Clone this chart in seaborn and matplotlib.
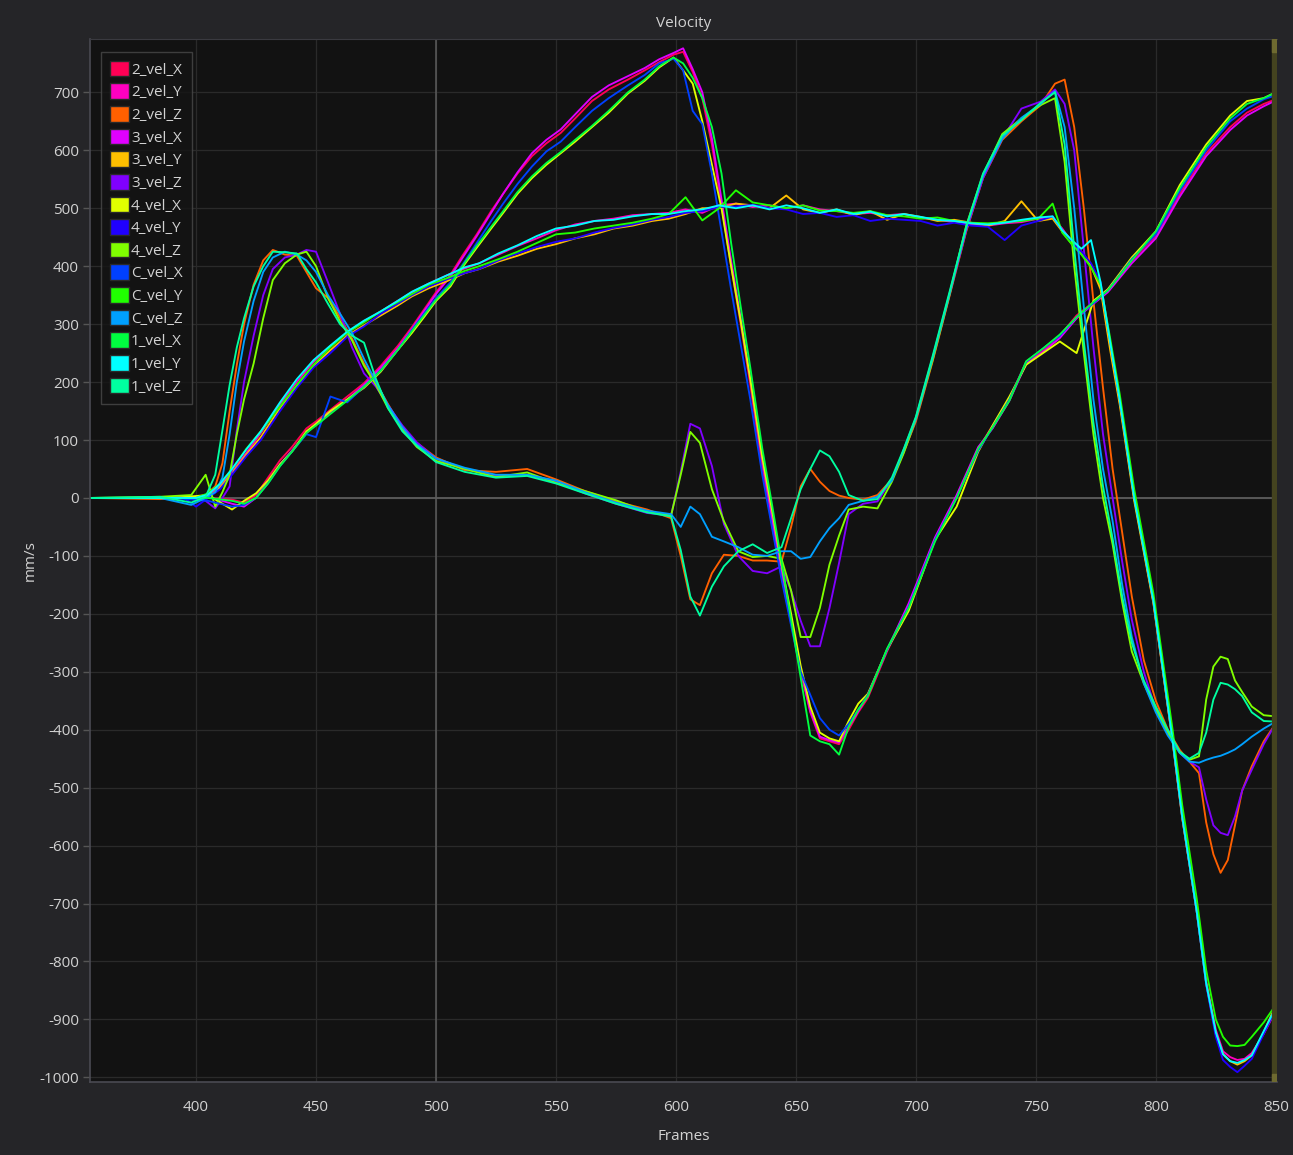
import pandas as pd
import seaborn as sns
import matplotlib.pyplot as plt
from matplotlib.patches import Patch

# frame grids (one per axis group)
frames_x = [356, 390, 405, 415, 420, 425, 430, 435, 440, 446,
            450, 456, 463, 470, 477, 484, 490, 495, 500, 506,
            511, 517, 523, 528, 534, 540, 546, 552, 558, 565,
            572, 580, 587, 593, 599, 603, 607, 611, 615, 619,
            623, 627, 631, 636, 640, 644, 648, 652, 656, 660,
            664, 668, 672, 676, 680, 688, 697, 708, 717, 726,
            732, 739, 746, 753, 760, 767, 774, 780, 790, 800,
            810, 821, 831, 838, 845, 850]

frames_y = [356, 395, 400, 405, 410, 415, 421, 427, 435, 442,
            449, 456, 463, 470, 477, 484, 490, 497, 505, 512,
            518, 526, 534, 542, 550, 558, 566, 574, 582, 590,
            597, 604, 611, 618, 625, 632, 639, 646, 653, 660,
            667, 674, 681, 688, 695, 702, 709, 716, 723, 730,
            737, 744, 751, 757, 761, 765, 769, 773, 777, 781,
            785, 791, 799, 807, 811, 817, 821, 825, 828, 831,
            834, 837, 840, 845, 850]

frames_z = [356, 385, 398, 404, 408, 411, 414, 417, 420, 424, 428, 432, 437, 442,
            446, 450, 455, 460, 465, 470, 475, 480, 486, 492, 500, 512, 525, 538, 550, 562, 575, 588, 598,
            602, 606, 610, 615, 620, 626, 632, 638, 644, 648, 652, 656, 660, 664, 668, 672, 678, 684, 690,
            695, 700, 707, 714, 721, 728, 736, 744, 752, 758,
            762, 766, 770, 774, 778, 782, 786, 790, 795, 800, 805, 810, 814,
            818, 821, 824, 827, 830, 833, 836, 840, 845, 850]

# X velocities
vel_2x = [0, 0, 0, -3, -8, 5, 35, 65, 88, 120,
          132, 152, 175, 198, 228, 262, 295, 325, 355, 385,
          418, 455, 495, 525, 560, 590, 612, 630, 655, 685,
          705, 722, 738, 752, 765, 770, 735, 690, 610, 505,
          400, 300, 195, 50, -45, -135, -215, -300, -370, -415,
          -420, -425, -400, -370, -345, -265, -185, -70, 2, 85,
          125, 172, 235, 255, 280, 315, 338, 360, 410, 452,
          525, 595, 640, 665, 680, 688]
vel_3x = [0, 0, 2, -10, -15, 0, 28, 58, 82, 112,
          128, 148, 170, 195, 225, 258, 292, 322, 352, 382,
          414, 452, 492, 525, 562, 595, 618, 636, 662, 692,
          712, 728, 742, 757, 768, 776, 740, 700, 620, 515,
          410, 310, 205, 65, -35, -125, -210, -295, -368, -412,
          -418, -422, -395, -368, -340, -262, -182, -68, 5, 88,
          120, 168, 232, 252, 276, 310, 335, 355, 405, 448,
          520, 590, 635, 660, 676, 686]
vel_4x = [0, 0, 5, -20, -5, 8, 30, 58, 80, 115,
          128, 150, 170, 190, 218, 255, 285, 312, 340, 365,
          398, 432, 465, 492, 525, 552, 575, 595, 615, 640,
          665, 698, 720, 743, 760, 738, 715, 650, 575, 500,
          400, 305, 205, 70, -20, -115, -200, -290, -360, -405,
          -415, -420, -385, -355, -338, -262, -195, -72, -15, 80,
          125, 175, 230, 250, 270, 250, 340, 360, 415, 460,
          540, 610, 660, 685, 690, 700]
vel_cx = [0, 0, -5, -15, -12, 0, 25, 55, 80, 110,
          105, 175, 165, 192, 220, 255, 290, 318, 345, 372,
          402, 440, 478, 508, 542, 572, 598, 615, 640, 668,
          690, 712, 730, 750, 758, 738, 668, 645, 560, 460,
          360, 265, 170, 40, -50, -140, -220, -300, -340, -380,
          -400, -410, -390, -365, -340, -262, -188, -72, 0, 82,
          122, 170, 235, 258, 280, 312, 336, 358, 412, 455,
          530, 600, 650, 672, 688, 695]
vel_1x = [0, 0, 0, -5, -10, 0, 25, 55, 80, 112,
          125, 145, 168, 192, 220, 255, 288, 315, 342, 368,
          400, 435, 468, 495, 528, 555, 578, 597, 618, 642,
          668, 700, 722, 745, 760, 750, 725, 690, 640, 560,
          440, 330, 225, 85, -10, -110, -210, -310, -410, -420,
          -425, -443, -395, -365, -342, -260, -190, -75, 0, 85,
          122, 168, 236, 258, 282, 312, 338, 358, 410, 460,
          535, 605, 655, 680, 690, 700]

# Y velocities
vel_2y = [0, 0, -3, 5, 20, 45, 78, 112, 162, 200,
          235, 262, 285, 305, 322, 340, 355, 370, 385, 396,
          405, 420, 435, 448, 462, 472, 478, 482, 488, 490,
          492, 498, 492, 505, 508, 502, 505, 500, 505, 498,
          495, 490, 492, 488, 490, 483, 480, 476, 472, 470,
          474, 476, 482, 484, 465, 442, 425, 400, 365, 262,
          165, 0, -180, -420, -552, -712, -835, -918, -955, -965,
          -970, -968, -958, -925, -885]
vel_3y = [0, 0, 2, 0, 18, 42, 75, 105, 155, 192,
          228, 255, 280, 298, 315, 332, 348, 362, 375, 388,
          395, 408, 418, 430, 438, 448, 455, 465, 470, 478,
          482, 490, 500, 500, 508, 505, 500, 522, 498, 492,
          498, 488, 495, 480, 490, 485, 478, 480, 475, 470,
          478, 512, 478, 482, 460, 438, 422, 400, 360, 255,
          160, -5, -182, -420, -552, -712, -838, -925, -960, -972,
          -978, -972, -962, -922, -875]
vel_4y = [0, 0, -15, 0, 15, 40, 72, 100, 150, 190,
          225, 250, 278, 296, 318, 335, 350, 365, 378, 388,
          395, 410, 422, 433, 442, 448, 458, 466, 472, 480,
          485, 492, 495, 502, 503, 506, 500, 498, 490, 492,
          485, 488, 478, 482, 480, 478, 470, 475, 470, 468,
          445, 470, 478, 486, 462, 440, 425, 405, 372, 270,
          170, 5, -175, -415, -548, -712, -840, -930, -970, -982,
          -991, -980, -968, -925, -882]
vel_cy = [0, 0, 0, 8, 25, 50, 85, 115, 158, 195,
          230, 260, 285, 303, 322, 338, 352, 368, 380, 392,
          400, 412, 425, 440, 455, 458, 465, 470, 475, 482,
          490, 519, 479, 500, 531, 510, 505, 500, 505, 496,
          495, 492, 495, 488, 486, 482, 484, 478, 475, 474,
          476, 478, 482, 508, 458, 438, 420, 398, 368, 275,
          178, 15, -165, -400, -530, -690, -815, -900, -930, -945,
          -946, -944, -930, -905, -875]
vel_1y = [0, 0, 0, 6, 24, 50, 84, 115, 165, 205,
          238, 263, 287, 306, 322, 340, 356, 370, 385, 398,
          405, 422, 436, 452, 465, 470, 478, 480, 486, 490,
          490, 495, 498, 505, 500, 505, 498, 505, 500, 492,
          498, 490, 494, 486, 490, 485, 480, 478, 474, 472,
          475, 480, 484, 486, 462, 445, 430, 445, 372, 268,
          168, 0, -178, -418, -550, -712, -838, -922, -960, -972,
          -975, -970, -962, -920, -880]

# Z velocities
vel_2z = [0, -2, 0, 5, 20, 60, 150, 230, 300, 368, 410, 428, 420, 418,
          390, 362, 345, 312, 275, 232, 198, 162, 120, 95, 70, 48, 45, 50, 32, 12, -6, -20, -35,
          -100, -175, -185, -130, -98, -100, -108, -108, -110, -50, 20, 50, 28, 12, 4, 0, -3, 5, 32,
          80, 132, 236, 348, 460, 552, 618, 650, 678, 715,
          722, 640, 500, 340, 190, 50, -60, -170, -280, -350, -400, -435, -455,
          -475, -560, -615, -647, -625, -565, -505, -463, -420, -389]
vel_3z = [0, 0, 3, -5, -18, 0, 20, 117, 200, 280, 350, 395, 415, 420,
          428, 425, 372, 318, 260, 215, 192, 160, 125, 96, 68, 50, 38, 40, 28, 8, -10, -26, -30,
          45, 128, 120, 55, -45, -100, -126, -130, -118, -160, -212, -256, -256, -190, -112, -28, -10, -6, 32,
          80, 135, 240, 350, 462, 552, 620, 672, 684, 705,
          680, 600, 430, 260, 110, 0, -110, -210, -300, -365, -405, -440, -455,
          -465, -520, -565, -578, -582, -550, -505, -469, -425, -389]
vel_4z = [0, 2, 5, 40, -15, 10, 40, 110, 170, 232, 310, 376, 405, 420,
          425, 400, 345, 305, 272, 228, 195, 155, 118, 88, 64, 50, 36, 44, 26, 12, -4, -24, -30,
          40, 114, 95, 15, -40, -92, -102, -100, -105, -160, -240, -240, -190, -115, -65, -20, -15, -18, 28,
          78, 136, 238, 350, 470, 558, 628, 655, 678, 690,
          580, 400, 250, 110, 0, -80, -180, -265, -320, -365, -405, -440, -452,
          -446, -348, -291, -274, -278, -315, -335, -360, -375, -377]
vel_cz = [0, 0, -12, 0, 10, 35, 110, 200, 270, 340, 390, 415, 425, 420,
          410, 390, 350, 318, 285, 240, 200, 160, 122, 92, 68, 52, 40, 40, 30, 10, -8, -22, -28,
          -50, -15, -28, -67, -75, -85, -98, -100, -92, -92, -105, -102, -75, -52, -35, -12, -5, 2, 30,
          84, 138, 242, 352, 466, 556, 620, 656, 680, 702,
          640, 500, 330, 170, 50, -40, -150, -240, -320, -370, -410, -440, -455,
          -457, -452, -448, -445, -440, -434, -425, -412, -398, -386]
vel_1z = [0, 2, -8, 2, 40, 117, 195, 260, 310, 365, 400, 425, 424, 422,
          395, 372, 335, 300, 280, 268, 205, 155, 115, 90, 62, 45, 35, 38, 25, 8, -10, -25, -32,
          -90, -170, -203, -153, -118, -92, -80, -95, -85, -35, 15, 50, 82, 72, 45, 5, -5, -2, 35,
          85, 140, 245, 355, 468, 560, 625, 652, 682, 700,
          610, 430, 270, 130, 20, -70, -170, -250, -315, -360, -400, -438, -450,
          -440, -405, -348, -319, -322, -330, -342, -370, -385, -386]

names = ['2_vel_X', '2_vel_Y', '2_vel_Z', '3_vel_X', '3_vel_Y', '3_vel_Z',
         '4_vel_X', '4_vel_Y', '4_vel_Z', 'C_vel_X', 'C_vel_Y', 'C_vel_Z',
         '1_vel_X', '1_vel_Y', '1_vel_Z']
colors = ['#ff0055', '#ff00c0', '#ff6000', '#e000ff', '#ffc000', '#8000ff',
          '#e0ff00', '#2000ff', '#80ff00', '#0040ff', '#20ff00', '#00a0ff',
          '#00ff40', '#00ffff', '#00ffa0']
palette = dict(zip(names, colors))

table = [
    ('2_vel_X', frames_x, vel_2x), ('2_vel_Y', frames_y, vel_2y), ('2_vel_Z', frames_z, vel_2z),
    ('3_vel_X', frames_x, vel_3x), ('3_vel_Y', frames_y, vel_3y), ('3_vel_Z', frames_z, vel_3z),
    ('4_vel_X', frames_x, vel_4x), ('4_vel_Y', frames_y, vel_4y), ('4_vel_Z', frames_z, vel_4z),
    ('C_vel_X', frames_x, vel_cx), ('C_vel_Y', frames_y, vel_cy), ('C_vel_Z', frames_z, vel_cz),
    ('1_vel_X', frames_x, vel_1x), ('1_vel_Y', frames_y, vel_1y), ('1_vel_Z', frames_z, vel_1z),
]
df = pd.concat([pd.DataFrame({'frame': f, 'vel': v, 'series': n}) for n, f, v in table],
               ignore_index=True)

sns.set_style('dark', {'axes.facecolor': '#121212', 'figure.facecolor': '#252528'})
plt.rcParams['font.family'] = ['Open Sans', 'DejaVu Sans']
plt.rcParams['axes.unicode_minus'] = False
txt = '#d2d2d2'

fig = plt.figure(figsize=(12.93, 11.55), dpi=100)
ax = fig.add_axes([0.0696, 0.0632, 0.918, 0.903])

ax.set_xticks(range(400, 851, 50))
ax.set_yticks(range(-1000, 701, 100))
ax.grid(True, color='#2a2a2a', linewidth=0.9)
ax.set_axisbelow(True)
ax.axhline(0, color='#5c5c5c', linewidth=1.3, zorder=1)
ax.axvline(500, color='#5c5c5c', linewidth=1.1, zorder=1)

sns.lineplot(data=df, x='frame', y='vel', hue='series', hue_order=names, palette=palette,
             estimator=None, errorbar=None, sort=False, linewidth=1.35, legend=False, ax=ax)

ax.set_xlim(355.8, 850.5)
ax.set_ylim(-1008, 792)

# range marker at the right edge
ax.axvspan(848.3, 850.5, color='#44431f', zorder=5)
ax.axvspan(848.3, 850.5, ymin=0.988, ymax=1, color='#6e6a30', zorder=6)
ax.axvspan(848.3, 850.5, ymin=0, ymax=0.008, color='#6e6a30', zorder=6)

for side in ['left', 'bottom']:
    ax.spines[side].set_color('#4a4a52')
    ax.spines[side].set_linewidth(1.2)
ax.spines['top'].set_color('#3a3a40')
ax.spines['right'].set_visible(False)

ax.tick_params(axis='x', labelcolor=txt, labelsize=11, length=0, pad=13)
ax.tick_params(axis='y', labelcolor=txt, labelsize=11, length=5, width=1, color='#555555',
               pad=3, left=True)
ax.set_xlabel('Frames', color=txt, fontsize=11, labelpad=10)
ax.set_ylabel('mm/s', color=txt, fontsize=11, labelpad=1)
ax.set_title('Velocity', color=txt, fontsize=11, pad=9)

handles = [Patch(facecolor=palette[n], edgecolor='#2a2a2a', label=n) for n in names]
leg = ax.legend(handles=handles, loc='upper left', bbox_to_anchor=(0.0095, 0.988),
                fontsize=11, frameon=True, facecolor='#141414', edgecolor='#4a4a4a',
                labelcolor=txt, handlelength=1.2, handleheight=1.2, handletextpad=0.15,
                labelspacing=0.37, borderpad=0.6, borderaxespad=0, fancybox=False)
leg.get_frame().set_linewidth(1.0)

fig.savefig('out.png', dpi=100, facecolor=fig.get_facecolor())
